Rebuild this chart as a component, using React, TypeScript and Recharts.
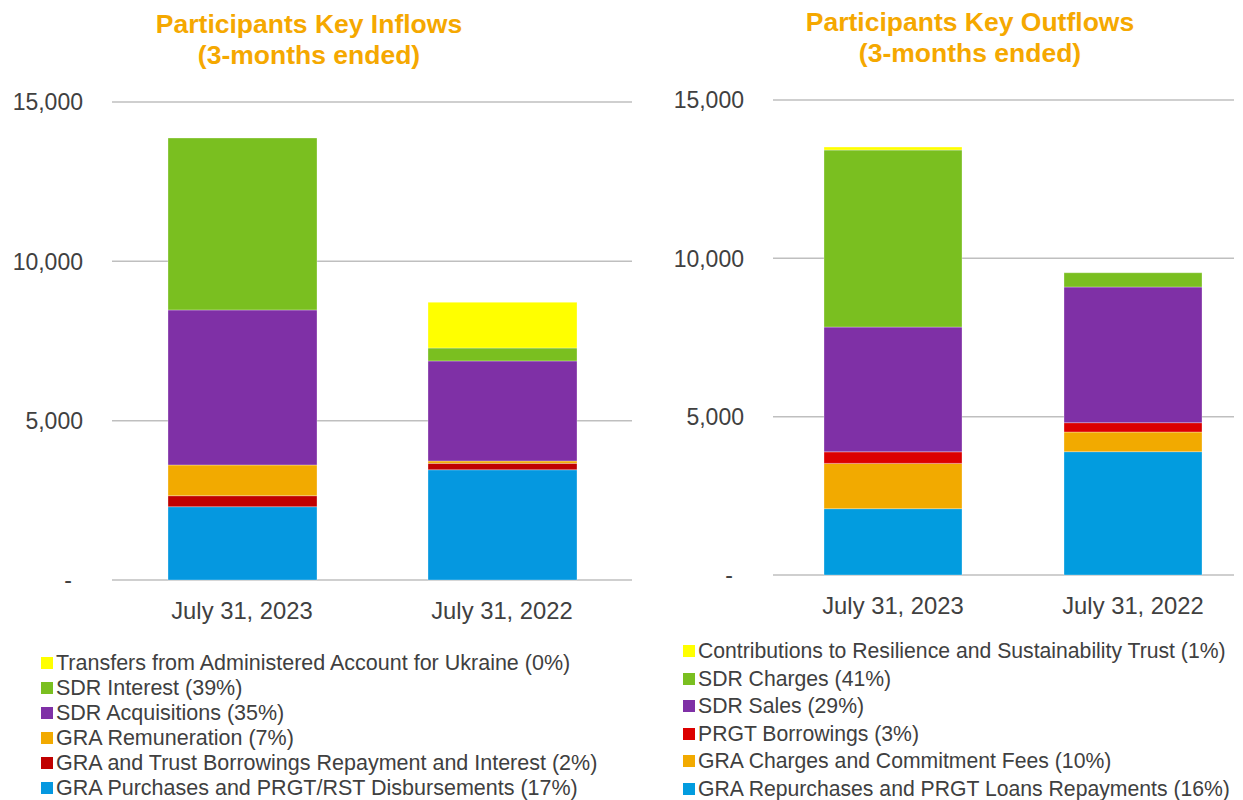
import React from "react";
import { BarChart, Bar, XAxis, YAxis, CartesianGrid } from "recharts";

/* ---------- data ---------- */
const categories = ["July 31, 2023", "July 31, 2022"];
const yTicks = [0, 5000, 10000, 15000];

// inflows (stack order bottom -> top)
const inflowPurchases = [2300, 3460];
const inflowBorrowRepay = [345, 200];
const inflowRemuneration = [965, 75];
const inflowSdrAcq = [4865, 3140];
const inflowSdrInterest = [5395, 405];
const inflowUkraine = [0, 1435];

// outflows (stack order bottom -> top)
const outflowRepurchases = [2095, 3895];
const outflowChargesFees = [1430, 620];
const outflowPrgtBorrow = [365, 295];
const outflowSdrSales = [3940, 4285];
const outflowSdrCharges = [5590, 450];
const outflowRst = [95, 0];

type Series = { key: string; label: string; color: string; values: number[] };

const inflowSeries: Series[] = [
  { key: "purch", label: "GRA Purchases and PRGT/RST Disbursements (17%)", color: "#0598E0", values: inflowPurchases },
  { key: "borrow", label: "GRA and Trust Borrowings Repayment and Interest (2%)", color: "#C00000", values: inflowBorrowRepay },
  { key: "remun", label: "GRA Remuneration (7%)", color: "#F2AA00", values: inflowRemuneration },
  { key: "acq", label: "SDR Acquisitions (35%)", color: "#7F30A6", values: inflowSdrAcq },
  { key: "interest", label: "SDR Interest (39%)", color: "#7ABF20", values: inflowSdrInterest },
  { key: "ukraine", label: "Transfers from Administered Account for Ukraine (0%)", color: "#FFFF00", values: inflowUkraine },
];

const outflowSeries: Series[] = [
  { key: "repurch", label: "GRA Repurchases and PRGT Loans Repayments (16%)", color: "#029CDF", values: outflowRepurchases },
  { key: "fees", label: "GRA Charges and Commitment Fees (10%)", color: "#F2AA00", values: outflowChargesFees },
  { key: "prgt", label: "PRGT Borrowings (3%)", color: "#DC0000", values: outflowPrgtBorrow },
  { key: "sales", label: "SDR Sales (29%)", color: "#7F30A6", values: outflowSdrSales },
  { key: "charges", label: "SDR Charges (41%)", color: "#7ABF20", values: outflowSdrCharges },
  { key: "rst", label: "Contributions to Resilience and Sustainability Trust (1%)", color: "#FFFF00", values: outflowRst },
];

function buildRows(series: Series[]) {
  return categories.map((c, i) => {
    const row: Record<string, any> = { name: c };
    series.forEach(s => (row[s.key] = s.values[i]));
    return row;
  });
}

const FONT = "'Liberation Sans', Arial, sans-serif";
const TEXT = "#404040";
const TITLE = "#F5A800";

/* ---------- ticks ---------- */
const YTick = (props: any) => {
  const { x, y, payload } = props;
  const v = payload.value as number;
  return (
    <text x={v === 0 ? x - 11 : x} y={y} dy="0.36em" textAnchor="end" fill={TEXT} fontSize={23} fontFamily={FONT}>
      {v === 0 ? "-" : v.toLocaleString("en-US")}
    </text>
  );
};

const XTick = (props: any) => {
  const { x, y, payload } = props;
  return (
    <text x={x} y={y + 37} textAnchor="middle" fill={TEXT} fontSize={23.8} fontFamily={FONT}>
      {payload.value}
    </text>
  );
};

/* ---------- one panel ---------- */
function Panel(props: {
  series: Series[];
  width: number;
  top: number;
  bottomAxis: number;
  yAxisW: number;
  right: number;
  barSize: number;
}) {
  const { series, width, top, bottomAxis, yAxisW, right, barSize } = props;
  return (
    <BarChart
      width={width}
      height={640}
      data={buildRows(series)}
      margin={{ top, right, bottom: 0, left: 0 }}
    >
      <CartesianGrid vertical={false} stroke="#BFBFBF" strokeWidth={1.5} />
      <XAxis dataKey="name" axisLine={false} tickLine={false} tickSize={0} height={bottomAxis} tick={<XTick />} interval={0} />
      <YAxis
        domain={[0, 15000]}
        ticks={yTicks}
        axisLine={false}
        tickLine={false}
        tickSize={0}
        tickMargin={29}
        width={yAxisW}
        tick={<YTick />}
      />
      {series.map(s => (
        <Bar
          key={s.key}
          dataKey={s.key}
          stackId="a"
          fill={s.color}
          barSize={barSize}
          stroke="rgba(255,255,255,0.3)"
          strokeWidth={1}
          isAnimationActive={false}
        />
      ))}
    </BarChart>
  );
}

function Legend(props: { series: Series[]; left: number; top: number; step: number; fontSize: number }) {
  const { series, left, top, step, fontSize } = props;
  return (
    <div style={{ position: "absolute", left, top }}>
      {[...series].reverse().map((s, i) => (
        <div
          key={s.key}
          style={{
            position: "absolute",
            left: 0,
            top: i * step,
            height: 24,
            display: "flex",
            alignItems: "center",
            whiteSpace: "nowrap",
            fontFamily: FONT,
            fontSize,
            color: TEXT,
          }}
        >
          <span style={{ display: "inline-block", width: 12, height: 12, background: s.color, marginRight: 3 }} />
          {s.label}
        </div>
      ))}
    </div>
  );
}

function Title(props: { text: string; center: number; top: number }) {
  return (
    <div
      style={{
        position: "absolute",
        left: props.center - 250,
        width: 500,
        top: props.top,
        textAlign: "center",
        fontFamily: FONT,
        fontWeight: "bold",
        fontSize: 26.5,
        lineHeight: "31px",
        color: TITLE,
      }}
    >
      {props.text}
      <br />
      (3-months ended)
    </div>
  );
}

export default function App() {
  return (
    <div style={{ position: "absolute", left: 0, top: 0, width: 1243, height: 800, overflow: "hidden", background: "#fff" }}>
      <Title text="Participants Key Inflows" center={309} top={9} />
      <Title text="Participants Key Outflows" center={970} top={7} />

      <div style={{ position: "absolute", left: 0, top: 0 }}>
        <Panel series={inflowSeries} width={640} top={102} bottomAxis={60} yAxisW={112} right={8} barSize={149} />
      </div>

      <div style={{ position: "absolute", left: 660, top: 0, width: 574, height: 640, overflow: "hidden" }}>
        <Panel series={outflowSeries} width={600} top={100} bottomAxis={65} yAxisW={113} right={7} barSize={138} />
      </div>

      <Legend series={inflowSeries} left={41} top={651} step={25} fontSize={21.5} />
      <Legend series={outflowSeries} left={683} top={639} step={27.6} fontSize={21.2} />
    </div>
  );
}
